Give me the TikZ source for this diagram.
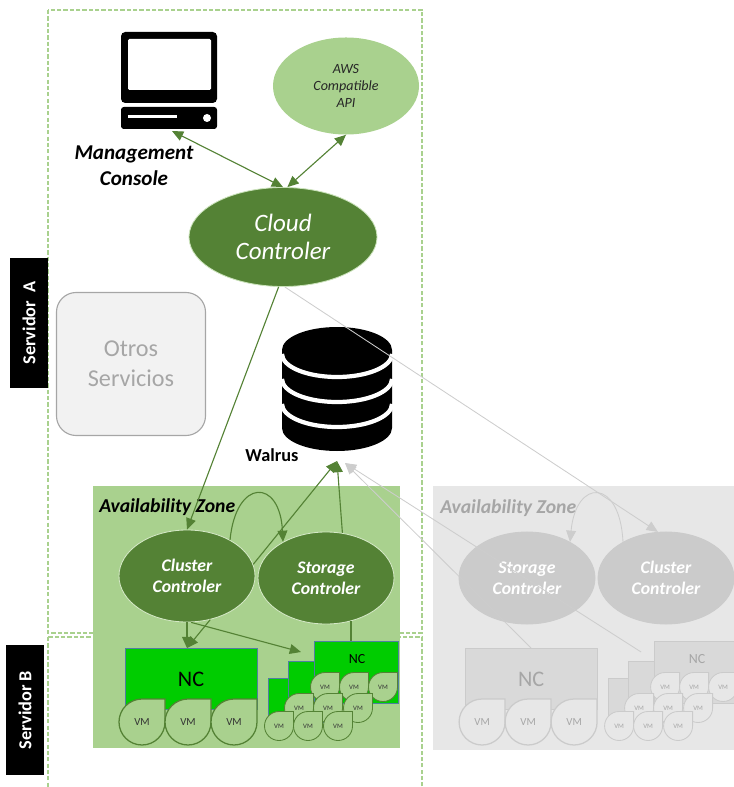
\documentclass[tikz,border=0pt]{standalone}
\usepackage{fontspec}
\setmainfont{Carlito}
\usetikzlibrary{shapes.geometric,arrows.meta,positioning}

\definecolor{dgreen}{HTML}{548235}
\definecolor{lgreen}{HTML}{A9D18E}
\definecolor{ncgreen}{HTML}{00CC00}
\definecolor{ncedge}{HTML}{4F7FA0}
\definecolor{zgray}{HTML}{E7E7E7}
\definecolor{egray}{HTML}{CBCBCB}
\definecolor{ngray}{HTML}{D9D9D9}
\definecolor{tgray}{HTML}{A6A6A6}
\definecolor{lgray}{HTML}{CDCDCD}

\newcommand{\fs}[2]{\fontsize{#1}{#2}\selectfont}

% VM drop: round body with a square top right corner
\newcommand{\vmdrop}[4]{%
  \draw[#1] (#2,#3) ++(0,-#4) arc[start angle=270,end angle=0,radius=#4] -- ++(0,-#4) -- cycle;}

\tikzset{
  srv box/.style={draw=lgreen, dash pattern=on 3pt off 1.5pt, line width=1.1pt},
  srv tag/.style={fill=black, text=white, rotate=90, inner sep=0pt,
    minimum width=3.25cm, minimum height=0.95cm, font=\fs{13}{15}\bfseries},
  cc/.style={ellipse, fill=dgreen, draw=lgreen!60!white, line width=0.6pt, text=white,
    align=center, inner sep=0pt, minimum width=4.7cm, minimum height=2.475cm,
    font=\fs{17.8}{20}\itshape},
  aws/.style={ellipse, fill=lgreen, text=black!85, align=center, inner sep=0pt,
    minimum width=3.65cm, minimum height=2.425cm, font=\fs{10}{12}\itshape},
  otros/.style={rectangle, rounded corners=14pt, fill=black!5, draw=tgray, line width=0.8pt,
    text=tgray, align=center, minimum width=3.725cm, minimum height=3.575cm,
    font=\fs{17.2}{21}},
  ctrl/.style={ellipse, fill=dgreen, draw=lgreen!50!white, line width=0.6pt, text=white,
    align=center, inner sep=0pt, minimum width=3.4cm, minimum height=2.3cm,
    font=\fs{12.6}{15}\bfseries\itshape},
  ctrl gray/.style={ctrl, fill=egray, draw=egray},
  title green/.style={inner sep=0pt, text=black, font=\fs{14}{16}\bfseries\itshape},
  title gray/.style={title green, text=tgray},
  nc box green/.style={draw=ncedge, fill=ncgreen, text=black, line width=0.6pt, inner sep=0pt},
  nc box gray/.style={draw=egray, fill=ngray, text=tgray, line width=0.6pt, inner sep=0pt},
  vm green/.style={draw=dgreen, fill=lgreen},
  vm gray/.style={draw=egray, fill=zgray},
  vm text green/.style={text=black!80, inner sep=0pt},
  vm text gray/.style={text=tgray, inner sep=0pt},
  link/.style={draw=dgreen, line width=0.8pt},
  glink/.style={draw=lgray, line width=0.6pt},
}

% node controllers of one availability zone
\newcommand{\ncgroup}[3]{%
  \begin{scope}[xshift=#1]
    \node[nc box #3, minimum width=3.3cm, minimum height=1.525cm,
      font=\fs{15.8}{18}] (#2nc) at (191,679) {NC};
    \foreach \x [count=\i] in {142,188,234}{
      \vmdrop{vm #3, line width=0.9pt}{\x}{722}{23}
      \node[vm text #3, font=\fs{7.7}{9}] (#2vm\i) at (\x,722) {VM};
    }
    % stacked controllers
    \draw[nc box #3] (268,678) rectangle (330,722);
    \draw[nc box #3] (288,661) rectangle (340,712);
    \node[nc box #3, minimum width=2.1cm, minimum height=1.55cm] (#2ncs) at (356,672) {};
    \node[nc box #3, draw=none, fill=none, font=\fs{9.9}{11}] (#2ncst) at (357,659) {NC};
    \foreach \x/\y [count=\i] in {325/687,354/687,383/687,299/708,328/708,358/708,279/726,308/726,338/726}{
      \vmdrop{vm #3, line width=0.6pt}{\x}{\y}{14.5}
      \node[vm text #3, font=\fs{4.8}{6}] (#2vs\i) at (\x,\y) {VM};
    }
    \coordinate (#2stk) at (301,652);
  \end{scope}}

\begin{document}
\begin{tikzpicture}[x=0.025cm, y=-0.025cm, >={Triangle[length=8pt,width=7pt]}]
\useasboundingbox (0,0) rectangle (733,787);

% availability zones
\fill[lgreen] (93,486) rectangle (400,748);
\fill[zgray] (433,486) rectangle (740,750);
\ncgroup{0cm}{a}{green}
\ncgroup{8.5cm}{b}{gray}

% servers
\draw[srv box] (48,10) rectangle (422,633);
\draw[srv box] (48,637) rectangle (422,800);
\node[srv tag] (srva) at (29,323) {Servidor\ \ A};
\node[srv tag] (srvb) at (25,710) {Servidor B};

% management console
\fill[rounded corners=3pt] (121,32) rectangle (217,103);
\fill[white, rounded corners=1pt] (128,39) rectangle (211,90);
\fill[rounded corners=2pt] (121,107) rectangle (217,129);
\fill[white] (128,115) rectangle (177,118);
\fill[white] (207,118) circle (4);
\coordinate (mon) at (172,131);
\node[font=\fs{15}{18.5}\bfseries\itshape, align=center] (mc) at (134,166) {Management\\Console};

% walrus
\fill (282,350) -- (282,428) arc[start angle=180,end angle=0,x radius=55,y radius=23]
  -- (392,350) arc[start angle=0,end angle=-180,x radius=55,y radius=23] -- cycle;
\foreach \y in {354,379,404}
  \draw[white, line width=3pt] (282,\y) arc[start angle=180,end angle=0,x radius=55,y radius=23];
\node[font=\fs{13}{15}\bfseries] (walrus) at (272,455) {Walrus};
\coordinate (db) at (337,461);
\coordinate (dbg) at (345,463);

\node[otros] (otros) at (131,364) {Otros\\Servicios};

% controllers
\node[aws] (aws) at (346,86) {AWS\\Compatible\\API};
\node[cc] (cloud) at (283,237) {Cloud\\Controler};
\node[title green, anchor=west] (aza) at (99,507) {Availability Zone};
\node[title gray, anchor=west] (azb) at (440,508) {Availability Zone};
\node[ctrl] (aclus) at (187,576) {Cluster\\Controler};
\node[ctrl] (astor) at (326,578) {Storage\\Controler};
\node[ctrl gray] (bstor) at (527,578) {Storage\\Controler};
\node[ctrl gray] (bclus) at (666,578) {Cluster\\Controler};

% links
\draw[link, <->] (mon) -- (cloud.north);
\draw[link, <->] (aws.south) -- (cloud.85);
\draw[link, ->] (cloud.-95) -- (aclus.north);
\draw[link, ->] (aclus.40) .. controls (236,478) and (280,478) .. (astor.140);
\draw[link, ->] (aclus.10) -- (db);
\draw[link, ->] (astor.70) -- (db);
\draw[link, ->] (aclus.south) -- (aclus.south |- anc.north);
\draw[link, ->] (aclus.-62) -- (aclus.south |- anc.north);
\draw[link, ->] (aclus.-85) -- (astk);
\draw[link] (astor.-60) -- (astor.-60 |- ancs.north);

\draw[glink, ->] (cloud.-88) -- (bclus.100);
\draw[glink, ->] (bclus.140) .. controls (620,478) and (576,478) .. (bstor.40);
\draw[glink, ->] (bnc.north) -- (dbg);
\draw[glink, ->] (bstk) -- (dbg);
\end{tikzpicture}
\end{document}
